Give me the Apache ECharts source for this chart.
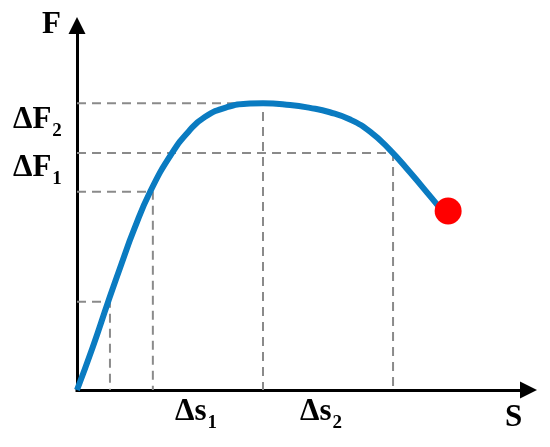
<!DOCTYPE html>
<html>
<head>
<meta charset="utf-8">
<script src="https://cdn.jsdelivr.net/npm/echarts@6/dist/echarts.min.js"></script>
<style>
  html, body { margin: 0; padding: 0; background: #fff; }
  #chart { width: 550px; height: 447px; }
</style>
</head>
<body>
<div id="chart"></div>
<script>
// 曲线数据 (S, F)
const sVals = [0, 3.5, 6.9, 9.9, 12.6, 16.2, 21.0, 25.0, 28.3, 33.2, 38.3, 41.2, 47.2, 51.6, 56.0, 60.5, 64.9, 69.3, 73.7, 78.2, 80.4];
const fVals = [0, 11.8, 24.2, 34.8, 43.9, 54.4, 64.9, 71.3, 74.9, 77.6, 78.6, 78.7, 78.2, 77.4, 76.2, 74.2, 70.9, 65.9, 59.8, 53.2, 49.9];
// 终点（红点）
const endPoint = [82.2, 49.1];
// 虚线辅助线的拐点
const guidePoints = [[7.3, 24.2], [16.8, 54.4], [41.2, 78.7], [70.0, 65.0]];
// 文字标注
const axisNames = ['F', 'S'];
const fLabels = [['ΔF', '2'], ['ΔF', '1']];
const sLabels = [['Δs', '1'], ['Δs', '2']];

const myChart = echarts.init(document.getElementById('chart'));

const FONT = 'Liberation Serif';
const BIG = 31;
const SMALL = 19;

// 量一下文字宽度，下标紧跟在后面
const ctx = document.createElement('canvas').getContext('2d');
function textWidth(text, size) {
    ctx.font = 'bold ' + size + 'px "' + FONT + '"';
    return ctx.measureText(text).width;
}

const axisLine = {
    show: true,
    symbol: ['none', 'triangle'],
    symbolSize: [17, 17],
    lineStyle: { color: '#000', width: 3, cap: 'square' }
};

// 虚线
const guideSeries = guidePoints.map(function (p) {
    return {
        type: 'line',
        data: [[0, p[1]], [p[0], p[1]], [p[0], 0]],
        showSymbol: false,
        silent: true,
        z: 1,
        lineStyle: { color: '#8a8a8a', width: 2, type: [9, 6] }
    };
});

function textEl(text, x, y, size) {
    return {
        type: 'text',
        x: x,
        y: y,
        style: {
            text: text,
            fontFamily: FONT,
            fontWeight: 'bold',
            fontSize: size,
            fill: '#000',
            align: 'left',
            verticalAlign: 'middle'
        }
    };
}

// 带下标的标注: x 为左端
function subLabel(pair, x, y) {
    const w = textWidth(pair[0], BIG);
    return [
        textEl(pair[0], x, y, BIG),
        textEl(pair[1], x + w + 1, y + 11, SMALL)
    ];
}

const graphics = [
    textEl(axisNames[0], 42, 25, BIG),
    textEl(axisNames[1], 505, 418, BIG)
].concat(
    subLabel(fLabels[0], 13, 120),
    subLabel(fLabels[1], 13, 168),
    subLabel(sLabels[0], 175, 412),
    subLabel(sLabels[1], 300, 412)
);

const option = {
    animation: false,
    grid: { left: 77, right: 21.5, top: 25.5, bottom: 57 },
    xAxis: {
        type: 'value', min: 0, max: 100,
        axisLine: axisLine,
        axisTick: { show: false },
        axisLabel: { show: false },
        splitLine: { show: false }
    },
    yAxis: {
        type: 'value', min: 0, max: 100,
        axisLine: axisLine,
        axisTick: { show: false },
        axisLabel: { show: false },
        splitLine: { show: false }
    },
    graphic: graphics,
    series: guideSeries.concat([
        {
            type: 'line',
            data: sVals.map(function (s, i) { return [s, fVals[i]]; }),
            smooth: true,
            showSymbol: false,
            z: 3,
            lineStyle: { color: '#0A7BC1', width: 6 }
        },
        {
            type: 'scatter',
            data: [endPoint],
            symbolSize: 27,
            z: 4,
            itemStyle: { color: '#FF0000', opacity: 1 }
        }
    ])
};

myChart.setOption(option);
</script>
</body>
</html>
